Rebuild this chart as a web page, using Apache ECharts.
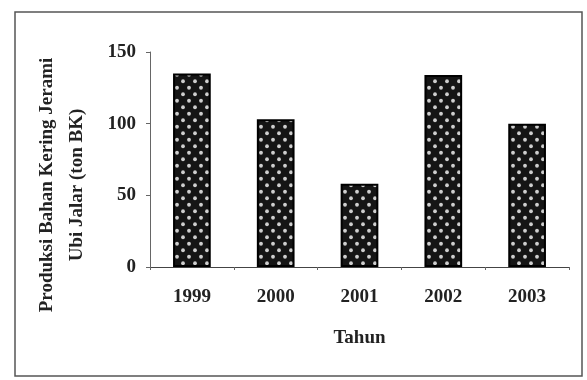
<!DOCTYPE html>
<html><head><meta charset="utf-8">
<script src="https://cdn.jsdelivr.net/npm/echarts@6/dist/echarts.min.js"></script>
<style>html,body{margin:0;padding:0;background:#fff}#c{width:587px;height:380px}</style>
</head><body><div id="c"></div>
<script>
const categories = ['1999', '2000', '2001', '2002', '2003'];
const values = [135, 103, 58, 134, 100];
const yTicks = [0, 50, 100, 150];
const yTitle = 'Produksi Bahan Kering Jerami\nUbi Jalar (ton BK)';
const xTitle = 'Tahun';

const tile = document.createElement('canvas');
tile.width = 12; tile.height = 13;
const g = tile.getContext('2d');
g.fillStyle = '#151515'; g.fillRect(0, 0, 12, 13);
g.fillStyle = '#cfcfcf';
[[3, 3.25], [9, 9.75]].forEach(p => { g.beginPath(); g.arc(p[0], p[1], 1.9, 0, Math.PI * 2); g.fill(); });

const font = 'Liberation Serif';
const txt = {fontFamily: font, fontSize: 19, fontWeight: 'bold', color: '#222'};
const chart = echarts.init(document.getElementById('c'), null, {renderer: 'canvas'});
chart.setOption({
  animation: false,
  backgroundColor: '#fff',
  graphic: [
    {type: 'rect', shape: {x: 15, y: 12, width: 567, height: 364}, style: {fill: 'none', stroke: '#555', lineWidth: 1.5}, silent: true},
    {type: 'text', x: 62, y: 185, rotation: Math.PI / 2, silent: true,
     style: {text: yTitle, fontFamily: font, fontSize: 19, fontWeight: 'bold', fill: '#222', lineHeight: 30, align: 'center', verticalAlign: 'middle'}}
  ],
  grid: {left: 150, right: 18, top: 52, bottom: 113},
  xAxis: {
    type: 'category', data: categories,
    name: xTitle, nameLocation: 'middle', nameGap: 62,
    nameTextStyle: txt,
    axisLine: {lineStyle: {color: '#444', width: 1}},
    axisTick: {show: true, length: 3, lineStyle: {color: '#666'}},
    axisLabel: Object.assign({margin: 21}, txt)
  },
  yAxis: {
    type: 'value', min: yTicks[0], max: yTicks[yTicks.length - 1], interval: 50,
    axisLine: {show: true, lineStyle: {color: '#666', width: 1}},
    axisTick: {show: true, length: 4, lineStyle: {color: '#666'}},
    splitLine: {show: false},
    axisLabel: Object.assign({margin: 14}, txt)
  },
  series: [{
    type: 'bar', data: values, barWidth: '45%',
    itemStyle: {color: {image: tile, repeat: 'repeat'}, borderColor: '#000', borderWidth: 2}
  }]
});
</script></body></html>
